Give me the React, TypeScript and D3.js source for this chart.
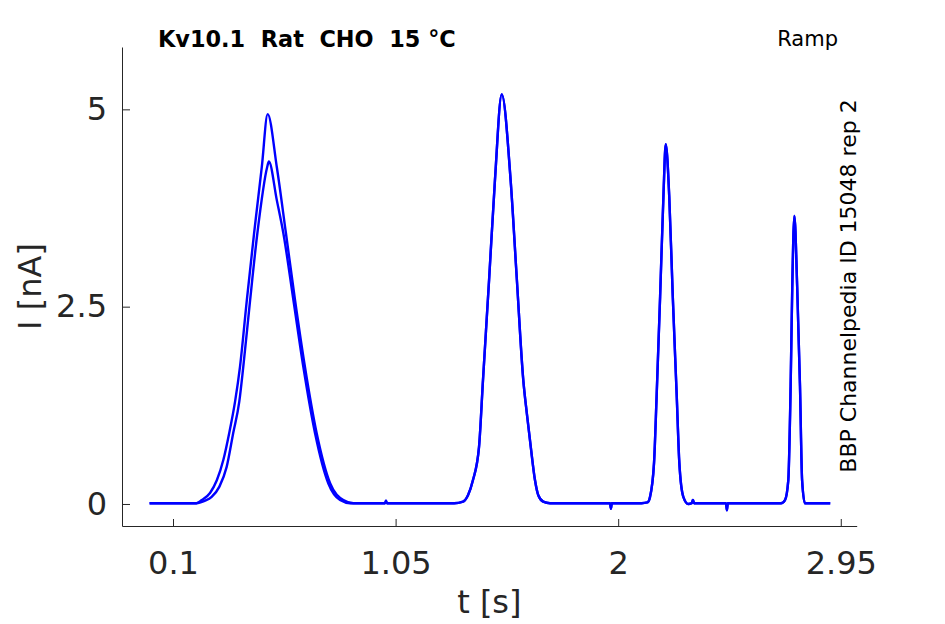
import React, { useEffect, useRef } from "react";
import * as d3 from "d3";

type Pt = [number, number];

// time [s], current [nA]
const leadIn: Pt[] = [
  [0.0, 0.01],
  [0.1, 0.01],
  [0.2, 0.01],
];

const peak1Outer: Pt[] = [
  [0.2225, 0.05],
  [0.258, 0.14],
  [0.287, 0.3],
  [0.315, 0.56],
  [0.34, 0.9],
  [0.365, 1.3],
  [0.386, 1.74],
  [0.415, 2.58],
  [0.446, 3.43],
  [0.479, 4.27],
  [0.504, 4.94],
  [0.543, 4.27],
  [0.582, 3.43],
  [0.621, 2.58],
  [0.663, 1.74],
  [0.713, 0.9],
  [0.771, 0.26],
  [0.827, 0.05],
  [0.87, 0.01],
];

const peak1Inner: Pt[] = [
  [0.235, 0.04],
  [0.265, 0.09],
  [0.298, 0.22],
  [0.329, 0.47],
  [0.357, 0.9],
  [0.383, 1.3],
  [0.4, 1.74],
  [0.429, 2.58],
  [0.46, 3.43],
  [0.502, 4.27],
  [0.509, 4.34],
  [0.543, 3.85],
  [0.571, 3.43],
  [0.614, 2.58],
  [0.656, 1.74],
  [0.706, 0.9],
  [0.763, 0.26],
  [0.813, 0.05],
  [0.856, 0.01],
];

const gap1: Pt[] = [
  [0.95, 0.01],
  [1.005, 0.01],
  [1.009, 0.04],
  [1.013, 0.01],
  [1.2, 0.01],
  [1.3, 0.01],
];

const peak2: Pt[] = [
  [1.338, 0.03],
  [1.359, 0.11],
  [1.38, 0.3],
  [1.406, 0.72],
  [1.423, 1.57],
  [1.449, 2.84],
  [1.474, 4.1],
  [1.503, 5.19],
  [1.541, 4.1],
  [1.567, 2.87],
  [1.595, 1.57],
  [1.61, 1.15],
  [1.627, 0.72],
  [1.645, 0.3],
  [1.659, 0.11],
  [1.68, 0.03],
  [1.709, 0.01],
];

const gap2: Pt[] = [
  [1.85, 0.01],
  [1.965, 0.01],
  [1.969, -0.06],
  [1.973, 0.01],
  [2.1, 0.01],
  [2.125, 0.02],
];

const peak3: Pt[] = [
  [2.136, 0.09],
  [2.153, 0.52],
  [2.164, 1.36],
  [2.179, 2.63],
  [2.193, 3.89],
  [2.203, 4.56],
  [2.218, 3.89],
  [2.233, 2.63],
  [2.25, 1.36],
  [2.261, 0.52],
  [2.278, 0.09],
  [2.299, 0.0],
];

const gap3: Pt[] = [
  [2.314, 0.01],
  [2.319, 0.05],
  [2.324, 0.01],
  [2.4, 0.01],
  [2.46, 0.01],
  [2.464, -0.08],
  [2.468, 0.01],
  [2.6, 0.01],
  [2.695, 0.01],
];

const peak4: Pt[] = [
  [2.712, 0.05],
  [2.726, 0.3],
  [2.736, 1.49],
  [2.743, 2.75],
  [2.752, 3.65],
  [2.764, 2.75],
  [2.776, 1.49],
  [2.785, 0.3],
  [2.797, 0.01],
];

const tail: Pt[] = [
  [2.83, 0.01],
  [2.905, 0.01],
];

const xTicks = [0.1, 1.05, 2, 2.95];
const yTicks = [0, 2.5, 5];

const sweepA = [...leadIn, ...peak1Outer, ...gap1, ...peak2, ...gap2, ...peak3, ...gap3, ...peak4, ...tail];
const sweepB = [...leadIn, ...peak1Inner, ...gap1, ...peak2, ...gap2, ...peak3, ...gap3, ...peak4, ...tail];

const W = 945;
const H = 624;
const FONT = "DejaVu Sans";
const INK = "#262626";

export default function App() {
  const ref = useRef<SVGSVGElement>(null);

  useEffect(() => {
    if (!ref.current) return;
    const svg = d3.select(ref.current);
    svg.selectAll("*").remove();

    const left = 122,
      right = 856.7,
      top = 47,
      bottom = 526;

    const x = d3.scaleLinear().domain([-0.1177, 3.018]).range([left, right]);
    const y = d3.scaleLinear().domain([-0.279, 5.79]).range([bottom, top]);

    const xAxis = svg
      .append("g")
      .attr("transform", `translate(0,${bottom})`)
      .call(
        d3
          .axisBottom(x)
          .tickValues(xTicks)
          .tickFormat((d) => String(d))
          .tickSizeInner(-7)
          .tickSizeOuter(0)
          .tickPadding(25)
      );

    const yAxis = svg
      .append("g")
      .attr("transform", `translate(${left},0)`)
      .call(
        d3
          .axisLeft(y)
          .tickValues(yTicks)
          .tickFormat((d) => String(d))
          .tickSizeInner(-8)
          .tickSizeOuter(0)
          .tickPadding(15)
      );

    [xAxis, yAxis].forEach((g) => {
      g.attr("font-family", FONT).attr("font-size", 32);
      g.select(".domain").attr("stroke", INK).attr("stroke-width", 1);
      g.selectAll(".tick line").attr("stroke", INK).attr("stroke-width", 1);
      g.selectAll(".tick text").attr("fill", INK);
    });

    const line = d3
      .line<Pt>()
      .x((d) => x(d[0]))
      .y((d) => y(d[1]))
      .curve(d3.curveMonotoneX);

    [sweepB, sweepA].forEach((s) => {
      svg
        .append("path")
        .datum(s)
        .attr("d", line)
        .attr("fill", "none")
        .attr("stroke", "#0000ff")
        .attr("stroke-width", 2.4)
        .attr("stroke-linejoin", "round");
    });

    svg
      .append("text")
      .attr("x", (left + right) / 2)
      .attr("y", 613)
      .attr("text-anchor", "middle")
      .attr("font-family", FONT)
      .attr("font-size", 32)
      .attr("fill", INK)
      .text("t [s]");

    svg
      .append("text")
      .attr("transform", `translate(41,${(top + bottom) / 2}) rotate(-90)`)
      .attr("text-anchor", "middle")
      .attr("font-family", FONT)
      .attr("font-size", 32)
      .attr("fill", INK)
      .text("I [nA]");

    svg
      .append("text")
      .attr("x", 158)
      .attr("y", 47)
      .attr("font-family", FONT)
      .attr("font-weight", "bold")
      .attr("font-size", 22.4)
      .attr("fill", "#000")
      .style("white-space", "pre")
      .text("Kv10.1  Rat  CHO  15 °C");

    svg
      .append("text")
      .attr("x", 838)
      .attr("y", 46)
      .attr("text-anchor", "end")
      .attr("font-family", FONT)
      .attr("font-size", 21)
      .attr("fill", "#000")
      .text("Ramp");

    svg
      .append("text")
      .attr("transform", `translate(856,286) rotate(-90)`)
      .attr("text-anchor", "middle")
      .attr("font-family", FONT)
      .attr("font-size", 22)
      .attr("fill", "#000")
      .text("BBP Channelpedia ID 15048 rep 2");
  }, []);

  return (
    <svg
      ref={ref}
      width={W}
      height={H}
      style={{ position: "absolute", left: 0, top: 0, background: "#fff" }}
    />
  );
}
